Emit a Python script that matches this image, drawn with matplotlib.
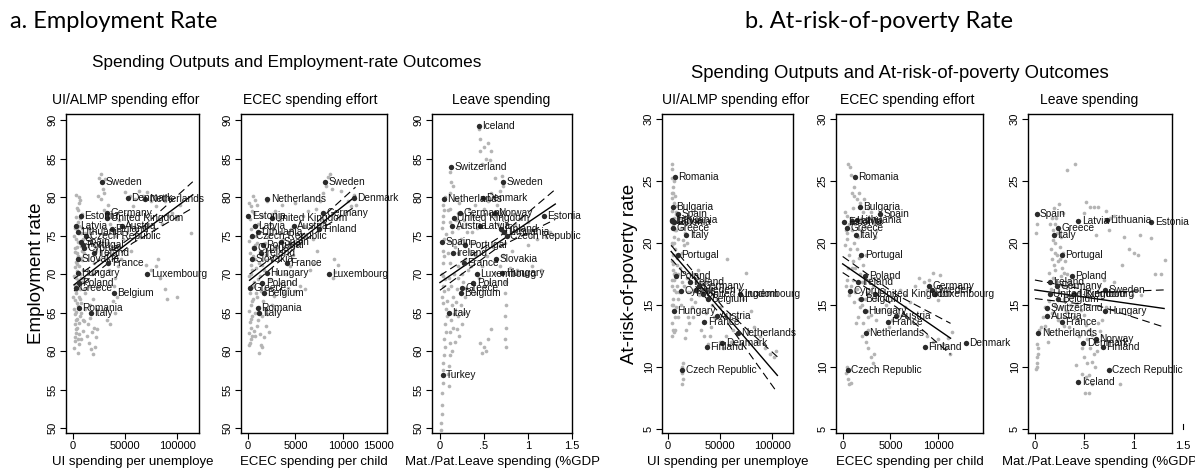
import numpy as np
import matplotlib
matplotlib.use("Agg")
import matplotlib.pyplot as plt

# ---------------- data ----------------
emp_rate = {
    "Iceland": 89.3, "Switzerland": 83.9, "Sweden": 82.0, "Denmark": 79.9, "Netherlands": 79.7,
    "Germany": 77.9, "Norway": 78.0, "Estonia": 77.5, "United Kingdom": 77.3, "Latvia": 76.3,
    "Austria": 76.2, "Finland": 75.9, "Lithuania": 75.5, "Czech Republic": 75.0, "Spain": 74.2,
    "Portugal": 73.8, "Cyprus": 73.4, "Ireland": 72.7, "Slovakia": 71.9, "France": 71.4,
    "Hungary": 70.1, "Luxembourg": 70.0, "Poland": 68.8, "Greece": 68.2, "Belgium": 67.6,
    "Romania": 65.6, "Italy": 64.9, "Turkey": 56.9,
}
pov_rate = {
    "Romania": 25.3, "Bulgaria": 22.9, "Spain": 22.3, "Lithuania": 21.85, "Latvia": 21.8,
    "Estonia": 21.7, "Greece": 21.2, "Italy": 20.6, "Portugal": 19.0, "Poland": 17.3,
    "Ireland": 16.8, "Germany": 16.5, "Sweden": 16.2, "Cyprus": 16.1, "United Kingdom": 15.9,
    "Luxembourg": 15.85, "Belgium": 15.5, "Switzerland": 14.7, "Hungary": 14.5, "Austria": 14.1,
    "France": 13.6, "Netherlands": 12.7, "Norway": 12.2, "Denmark": 11.9, "Finland": 11.6,
    "Czech Republic": 9.7, "Iceland": 8.8,
}

# labelled country means: spending per panel
ui_emp_x = {"Sweden": 27500, "Denmark": 52700, "Netherlands": 69600, "Estonia": 7400,
            "Germany": 32400, "United Kingdom": 33000, "Latvia": 3200, "Austria": 46900,
            "Finland": 37200, "Lithuania": 4900, "Czech Republic": 12900, "Spain": 8100,
            "Portugal": 9500, "Cyprus": 11000, "Ireland": 20400, "Slovakia": 4900,
            "France": 34000, "Hungary": 4900, "Luxembourg": 71500, "Poland": 5800,
            "Greece": 3200, "Belgium": 39200, "Romania": 5800, "Italy": 17200}
ecec_emp_x = {"Sweden": 8100, "Denmark": 11150, "Netherlands": 2060, "Estonia": 80,
              "United Kingdom": 2500, "Germany": 7900, "Latvia": 730, "Austria": 4850,
              "Finland": 7500, "Lithuania": 1030, "Czech Republic": 460, "Spain": 3440,
              "Portugal": 1600, "Cyprus": 650, "Ireland": 1410, "Slovakia": 460,
              "France": 4090, "Hungary": 1990, "Luxembourg": 8480, "Poland": 1530,
              "Greece": 270, "Belgium": 1680, "Romania": 1030, "Italy": 1220}
leave_emp_x = {"Iceland": 0.44, "Switzerland": 0.13, "Sweden": 0.72, "Netherlands": 0.046,
               "Denmark": 0.49, "Germany": 0.225, "Norway": 0.62, "United Kingdom": 0.16,
               "Estonia": 1.18, "Austria": 0.14, "Latvia": 0.45, "Finland": 0.69,
               "Lithuania": 0.73, "Czech Republic": 0.76, "Spain": 0.02, "Portugal": 0.29,
               "Ireland": 0.15, "Slovakia": 0.64, "France": 0.275, "Luxembourg": 0.42,
               "Hungary": 0.71, "Poland": 0.38, "Greece": 0.25, "Belgium": 0.24,
               "Italy": 0.10, "Turkey": 0.03}
ui_pov_x = {"Romania": 6300, "Bulgaria": 4700, "Spain": 9500, "Lithuania": 4200, "Latvia": 3500,
            "Estonia": 5600, "Greece": 4700, "Italy": 17400, "Portugal": 9500, "Poland": 7300,
            "Ireland": 21100, "Germany": 30000, "Cyprus": 12600, "Sweden": 27000,
            "United Kingdom": 33100, "Luxembourg": 69400, "Belgium": 37900, "Hungary": 5400,
            "Austria": 46700, "France": 34700, "Netherlands": 66900, "Denmark": 52100,
            "Finland": 37200, "Czech Republic": 13600}
ecec_pov_x = {"Romania": 1300, "Bulgaria": 1830, "Spain": 3940, "Lithuania": 1480, "Latvia": 1000,
              "Estonia": 180, "Greece": 420, "Italy": 1400, "Portugal": 1940, "Poland": 2360,
              "Ireland": 1650, "Cyprus": 770, "United Kingdom": 3410, "Germany": 9050,
              "Sweden": 9330, "Luxembourg": 9650, "Belgium": 1940, "Hungary": 2290,
              "Austria": 5600, "France": 4720, "Netherlands": 2430, "Finland": 8590,
              "Denmark": 12900, "Czech Republic": 530}
leave_pov_x = {"Spain": 0.017, "Latvia": 0.44, "Lithuania": 0.73, "Estonia": 1.18, "Greece": 0.236,
               "Italy": 0.19, "Portugal": 0.27, "Poland": 0.377, "Ireland": 0.15, "Germany": 0.22,
               "United Kingdom": 0.15, "Luxembourg": 0.40, "Sweden": 0.71, "Belgium": 0.236,
               "Switzerland": 0.12, "Hungary": 0.71, "Austria": 0.125, "France": 0.27,
               "Netherlands": 0.034, "Norway": 0.62, "Denmark": 0.49, "Finland": 0.69,
               "Czech Republic": 0.75, "Iceland": 0.44}

# country-year observations (grey)
gray_ui_emp = [
    (1000, 60.4), (2000, 61.3), (3000, 62.4), (1500, 63.5), (4000, 64.2), (2500, 65.1), (5000, 65.9),
    (1500, 66.6), (6000, 67.0), (3000, 67.5), (7000, 68.0), (2000, 68.6), (5000, 69.2), (1000, 69.8),
    (4000, 70.4), (6000, 71.0), (2500, 71.6), (8000, 72.1), (3500, 72.8), (1500, 73.4), (6500, 74.0),
    (3000, 74.6), (5500, 75.4), (2000, 76.0), (4500, 76.8), (7000, 77.3), (5000, 78.3), (6000, 79.2),
    (5500, 80.0), (3500, 63.0), (6000, 62.2), (2000, 64.8), (8000, 66.3), (9000, 69.0), (10000, 70.5),
    (8500, 73.0), (10000, 74.5), (4000, 73.5), (3000, 69.5), (7500, 65.0), (500, 67.0), (9000, 76.0),
    (1500, 61.8), (2500, 62.9), (4500, 61.5), (5500, 63.7), (3000, 64.0), (6500, 64.6), (1000, 65.5),
    (4000, 66.2), (7000, 66.8), (2500, 67.9), (5500, 68.2), (8000, 69.5), (1500, 70.9), (7000, 70.0),
    (3500, 71.3), (5000, 72.4), (9000, 71.8), (2000, 72.9), (7500, 73.6), (4500, 74.2), (1000, 75.0),
    (8000, 75.3), (3500, 75.9), (6000, 76.3), (2500, 77.4), (8500, 77.8), (4000, 78.6), (7000, 79.6),
    (3000, 80.3), (10500, 68.0), (11000, 72.8), (12000, 75.4), (9500, 64.0), (6000, 60.9),
    (8000, 61.5), (10000, 62.6), (11000, 63.9), (4500, 59.8),
    (13000, 62.0), (15000, 61.0), (17000, 60.2), (19000, 59.6), (21000, 60.5), (18000, 62.5),
    (22000, 61.8), (14000, 63.5), (20000, 63.0), (16000, 64.3), (12000, 65.5), (23000, 62.8),
    (12000, 67.5), (15000, 68.5), (18000, 70.0), (20000, 71.5), (22000, 73.0), (17000, 74.5),
    (14000, 76.0), (25000, 72.0), (11000, 69.5), (24000, 68.3), (19000, 66.8), (16000, 66.0),
    (25000, 82.5), (26500, 83.0), (28500, 81.0), (30000, 80.5), (27000, 79.8), (31000, 82.3), (24000, 80.2),
    (33000, 64.0), (36000, 63.5), (40000, 65.0), (38000, 66.5), (42000, 67.0), (39000, 68.5),
    (40000, 69.5), (35000, 70.5), (37000, 72.5), (33000, 74.0), (41000, 75.0), (36000, 76.5),
    (44000, 77.0), (30000, 78.3), (34000, 79.0), (45000, 73.5), (43000, 71.0), (29000, 76.0),
    (50000, 80.6), (55000, 80.2), (60000, 79.8), (63000, 80.8), (67000, 80.2), (71000, 80.6),
    (75000, 79.5), (58000, 78.8), (80000, 78.8), (88000, 79.5), (95000, 78.0), (100000, 77.2),
    (85000, 76.5), (78000, 75.8), (92000, 77.5), (103000, 79.0), (113500, 75.4),
    (75000, 70.5), (80000, 71.0), (84000, 69.5), (88000, 68.0), (90000, 66.8), (100000, 67.0),
    (82000, 72.0), (70000, 71.2), (48000, 74.5), (52000, 75.5), (56000, 73.0), (60000, 76.0),
    (64000, 74.8), (46000, 72.0), (55000, 77.5),
]
gray_ecec_emp = [
    (100, 60.8), (300, 61.5), (150, 62.3), (400, 63.0), (200, 63.8), (500, 64.5), (100, 65.2),
    (350, 66.0), (600, 66.8), (200, 67.5), (450, 68.3), (700, 69.0), (150, 69.8), (500, 70.5),
    (300, 71.2), (800, 72.0), (250, 72.8), (600, 73.5), (150, 74.3), (900, 75.0), (400, 75.8),
    (1100, 76.5), (200, 77.2), (700, 78.0), (300, 78.8), (100, 79.3), (600, 80.2), (1000, 74.0),
    (1200, 71.5), (900, 67.5), (1300, 69.8), (1100, 64.0), (800, 62.0),
    (250, 61.0), (450, 61.9), (700, 62.6), (1000, 63.2), (300, 64.2), (750, 65.0), (1200, 65.7),
    (450, 66.5), (1000, 67.0), (1400, 67.8), (650, 68.5), (1100, 69.3), (350, 70.0), (900, 70.8),
    (1500, 71.2), (550, 72.3), (1300, 73.0), (800, 73.8), (400, 74.8), (1200, 75.3), (700, 76.2),
    (1500, 77.5), (450, 78.2), (1000, 79.0), (800, 79.6), (1700, 70.5), (2000, 71.8), (2400, 73.2),
    (1800, 74.0), (2300, 76.5), (2600, 77.8), (2000, 79.5), (1500, 64.5), (1800, 65.5), (1300, 62.2),
    (1500, 60.5), (1700, 61.8), (1900, 63.2), (2200, 62.5), (2000, 64.8), (1600, 66.5), (2500, 66.0),
    (2800, 67.2), (1800, 68.0), (2300, 69.3), (3000, 70.2), (2600, 71.8), (1900, 72.5), (3200, 73.5),
    (2100, 74.8), (2700, 75.8), (3400, 77.0), (2900, 78.2), (1600, 76.0), (3500, 68.8),
    (1200, 59.8), (1400, 60.8),
    (3800, 67.5), (4200, 68.2), (4600, 68.8), (5000, 67.8), (5500, 68.5), (6000, 68.0), (4000, 70.0),
    (4400, 71.0), (4800, 72.5), (5200, 73.8), (5600, 75.0), (6000, 76.2), (3700, 74.5), (4500, 75.8),
    (5800, 77.5), (6300, 78.2), (3600, 79.0), (5000, 79.2), (6500, 70.5), (7000, 71.5),
    (7200, 78.5), (7600, 79.5), (7900, 80.5), (8200, 81.5), (8400, 82.6), (8600, 83.0), (8800, 81.0),
    (8000, 77.0), (7500, 76.5), (9000, 72.0), (9500, 71.2), (9200, 70.3), (8900, 69.5), (10500, 79.5),
    (10800, 78.8), (11100, 80.3), (11300, 79.0), (10200, 78.0), (9800, 80.8), (6800, 74.5), (7300, 73.0),
]
gray_leave_emp = [
    (0.01, 49.0), (0.01, 49.8), (0.015, 50.7), (0.02, 51.8), (0.02, 53.0), (0.02, 54.5), (0.03, 55.8),
    (0.03, 57.5), (0.04, 58.5), (0.05, 59.5), (0.06, 60.5), (0.05, 61.5), (0.07, 62.5), (0.06, 63.5),
    (0.08, 64.5), (0.07, 65.5), (0.02, 67.0), (0.03, 68.5), (0.02, 70.0), (0.04, 71.5), (0.03, 73.0),
    (0.05, 74.5), (0.02, 76.0), (0.04, 77.5), (0.03, 79.0), (0.06, 80.0), (0.05, 78.3), (0.07, 75.2),
    (0.06, 69.3), (0.10, 58.0), (0.11, 59.5), (0.12, 61.0), (0.11, 62.5), (0.13, 64.0), (0.14, 66.0),
    (0.15, 67.0), (0.13, 68.5), (0.16, 70.0), (0.12, 71.5), (0.17, 73.5), (0.14, 75.5), (0.18, 77.0),
    (0.12, 78.5), (0.11, 80.5), (0.13, 82.0), (0.12, 83.2), (0.15, 81.5), (0.09, 57.0), (0.10, 55.5),
    (0.04, 66.3), (0.05, 67.8), (0.04, 69.8), (0.05, 72.3), (0.04, 76.8), (0.08, 66.5), (0.09, 68.0),
    (0.10, 69.5), (0.09, 72.8), (0.10, 74.3), (0.11, 76.8), (0.09, 78.3), (0.14, 60.0), (0.15, 63.0),
    (0.16, 64.8), (0.18, 66.4), (0.19, 68.0), (0.20, 69.5), (0.21, 71.0), (0.20, 72.8), (0.22, 74.0),
    (0.21, 76.0), (0.20, 78.0), (0.19, 79.8), (0.25, 70.0), (0.28, 74.0), (0.30, 76.5), (0.36, 75.5),
    (0.38, 77.5), (0.40, 79.0), (0.17, 61.2), (0.19, 62.8), (0.21, 64.5),
    (0.22, 62.0), (0.25, 63.5), (0.27, 65.0), (0.24, 66.0), (0.28, 67.0), (0.30, 68.2), (0.26, 69.0),
    (0.32, 70.5), (0.29, 72.0), (0.34, 73.0), (0.24, 74.5), (0.31, 75.5), (0.27, 77.0), (0.33, 78.5),
    (0.22, 79.3), (0.35, 71.0),
    (0.44, 88.8), (0.46, 87.5), (0.50, 86.5), (0.55, 87.0), (0.58, 86.0), (0.52, 85.0), (0.48, 84.3),
    (0.57, 84.8), (0.62, 82.5), (0.45, 86.0),
    (0.38, 74.0), (0.42, 76.0), (0.45, 77.5), (0.50, 78.5), (0.55, 79.5), (0.58, 80.5), (0.40, 72.5),
    (0.48, 71.0), (0.53, 72.3), (0.60, 73.5), (0.44, 69.5), (0.50, 68.5), (0.56, 69.0), (0.40, 67.5),
    (0.45, 61.0), (0.50, 60.5), (0.48, 59.8), (0.52, 60.0), (0.55, 61.5), (0.58, 62.8),
    (0.62, 77.5), (0.65, 79.0), (0.68, 80.8), (0.70, 82.8), (0.72, 81.5), (0.66, 76.5), (0.70, 75.5),
    (0.74, 74.0), (0.72, 72.5), (0.68, 71.0), (0.75, 69.0), (0.74, 67.5), (0.75, 66.0), (0.74, 64.5),
    (0.75, 63.0), (0.74, 61.5), (0.75, 60.5), (0.62, 70.2), (0.80, 70.8),
    (0.85, 76.5), (0.90, 77.2), (0.95, 75.8), (1.00, 76.8), (1.05, 75.0), (1.10, 74.5), (0.88, 70.5),
    (0.95, 70.0), (1.05, 71.0), (1.15, 70.5), (1.20, 74.8), (1.25, 75.5), (1.28, 75.1), (1.00, 73.8),
    (0.82, 73.0),
]
gray_ui_pov = [
    (4000, 26.4), (4200, 26.0), (4500, 24.5), (5000, 24.0), (4200, 23.6), (5500, 23.2), (3800, 22.6),
    (6000, 22.0), (4500, 21.5), (7000, 21.0), (5500, 20.5), (4000, 20.0), (6500, 19.5), (5000, 19.0),
    (3800, 18.5), (4500, 17.8), (6000, 17.0), (4000, 16.5), (7500, 16.0), (5000, 15.5), (3800, 15.0),
    (6500, 14.0), (4000, 13.5), (5000, 13.0), (4200, 12.5), (8000, 22.5), (9000, 23.0), (11000, 22.0),
    (12000, 21.2), (9500, 20.3), (8500, 18.2), (10000, 17.5), (14000, 20.2), (16000, 20.8),
    (3500, 25.2), (5500, 25.0), (3800, 24.0), (6500, 23.8), (4800, 22.9), (7500, 22.3), (3500, 21.2),
    (5800, 21.8), (8000, 21.0), (3800, 19.8), (6000, 20.0), (7200, 19.0), (4500, 18.3), (9000, 18.8),
    (5500, 17.5), (7000, 17.6), (3500, 17.0), (8500, 16.5), (5800, 16.2), (4500, 15.0), (9500, 15.5),
    (11000, 16.0), (6000, 14.6), (8000, 14.8), (5500, 12.8), (7000, 13.0), (10000, 14.0), (12000, 15.0),
    (13000, 16.8), (11500, 18.0), (13000, 19.2), (15000, 19.8), (17000, 21.5), (18500, 20.0),
    (19000, 16.0), (22000, 15.5), (25000, 16.2), (28000, 16.0), (31000, 16.8), (24000, 14.0),
    (17000, 13.0),
    (13000, 10.0), (13500, 9.5), (14000, 9.0), (13500, 8.6), (14500, 10.3),
    (15000, 16.5), (18000, 17.2), (21000, 16.0), (24000, 17.5), (27000, 16.8), (30000, 15.8),
    (33000, 16.2), (20000, 13.5), (23000, 14.8), (26000, 15.2), (29000, 17.8), (35000, 17.0),
    (38000, 16.0), (42000, 15.0), (45000, 16.5), (16000, 12.3), (19000, 14.0), (32000, 13.0),
    (35000, 12.5), (38000, 11.8), (40000, 12.5), (36000, 14.3), (41000, 13.2), (44000, 14.0),
    (47000, 15.5), (50000, 14.8), (50000, 12.0), (53000, 11.5), (56000, 12.5), (60000, 12.0),
    (62000, 13.0), (57000, 18.7), (65000, 14.0), (68000, 16.3), (72000, 15.5), (75000, 17.6),
    (78000, 16.0), (80000, 14.5), (83000, 13.2), (88000, 12.5), (93000, 11.5), (98000, 11.0),
    (102000, 10.8), (104000, 11.3), (85000, 12.0), (90000, 12.8),
]
gray_ecec_pov = [
    (600, 26.4), (800, 26.1), (900, 25.5), (1000, 24.0), (1200, 23.8), (1500, 23.5), (1800, 23.2),
    (1100, 22.8), (2100, 22.5), (900, 22.0), (1300, 21.5), (2500, 21.7), (3000, 22.5), (3300, 22.0),
    (3500, 21.0), (3400, 20.5), (3600, 21.5), (300, 21.0), (500, 20.3), (200, 19.8), (700, 19.0),
    (1100, 18.5), (1500, 19.5), (1300, 18.0), (1800, 17.5), (2100, 18.2), (400, 17.0), (900, 16.5),
    (1500, 16.3), (2000, 16.8), (2500, 16.0), (700, 15.8), (1200, 15.2), (1800, 14.8), (2300, 15.5),
    (2800, 15.8), (1600, 14.0), (2100, 13.5), (2600, 13.0), (3000, 14.2), (3500, 13.8), (3800, 14.6),
    (2400, 12.0), (2700, 11.5), (3000, 10.8), (3200, 10.3), (3300, 11.0), (600, 9.0), (700, 8.6),
    (900, 8.7), (500, 10.0), (300, 9.5),
    (200, 22.5), (500, 22.2), (700, 21.5), (1000, 21.0), (400, 20.8), (1200, 20.0), (1600, 20.5),
    (1900, 21.0), (2300, 21.3), (2700, 22.0), (800, 19.5), (1000, 18.0), (1700, 18.8), (2400, 19.0),
    (600, 18.0), (300, 16.5), (1100, 17.0), (1300, 16.0), (1700, 15.5), (2000, 15.0), (2500, 14.5),
    (2800, 17.0), (3200, 16.5), (3500, 15.5), (1400, 13.5), (2000, 12.5), (2600, 14.0), (1200, 24.5),
    (1700, 24.0), (2200, 23.5), (2600, 22.8),
    (4500, 15.0), (5000, 14.5), (5500, 15.5), (6000, 16.2), (6500, 15.8), (4800, 13.2), (5200, 13.8),
    (5800, 14.2), (6500, 14.8), (7000, 15.2), (7600, 16.5), (8000, 17.2), (8500, 16.8), (9000, 17.0),
    (9500, 17.6), (10200, 17.4), (8800, 16.2), (9600, 15.8), (10000, 15.4),
    (8800, 12.5), (9500, 12.0), (10500, 11.8), (11000, 12.3), (11500, 12.8), (11200, 11.0),
    (10800, 11.5), (10000, 12.2),
]
gray_leave_pov = [
    (0.02, 21.5), (0.01, 20.8), (0.02, 22.3), (0.03, 11.5), (0.02, 10.8), (0.02, 10.3), (0.03, 11.0),
    (0.02, 10.0), (0.06, 13.2), (0.10, 13.3), (0.12, 13.0), (0.08, 14.0),
    (0.17, 22.0), (0.20, 21.5), (0.22, 20.8), (0.18, 20.2), (0.25, 19.7), (0.20, 19.2), (0.17, 18.7),
    (0.23, 18.5), (0.27, 18.0), (0.30, 17.6), (0.18, 17.2), (0.22, 16.8), (0.26, 17.3), (0.24, 23.1),
    (0.28, 22.4), (0.19, 22.8),
    (0.15, 21.5), (0.18, 21.0), (0.21, 22.0), (0.23, 21.2), (0.26, 20.5), (0.20, 20.0), (0.16, 19.5),
    (0.22, 19.0), (0.28, 19.2), (0.19, 18.2), (0.25, 18.7), (0.31, 18.5), (0.14, 17.6), (0.20, 17.8),
    (0.28, 16.5), (0.33, 16.5), (0.16, 16.3), (0.24, 16.0), (0.30, 15.5), (0.36, 15.0), (0.14, 15.3),
    (0.20, 15.0), (0.26, 14.8), (0.32, 14.5), (0.17, 14.3), (0.23, 13.8), (0.29, 13.3), (0.40, 14.0),
    (0.45, 12.5), (0.48, 11.5), (0.50, 10.8), (0.53, 10.3), (0.62, 12.0), (0.68, 12.5), (0.13, 12.0),
    (0.10, 14.8), (0.04, 13.0), (0.02, 11.8), (0.01, 9.8),
    (0.33, 17.5), (0.36, 16.9), (0.40, 16.5), (0.45, 16.0), (0.38, 15.6), (0.42, 15.0), (0.47, 14.6),
    (0.50, 14.2), (0.44, 13.8), (0.52, 13.4), (0.55, 13.0), (0.58, 12.6), (0.53, 12.2), (0.56, 11.5),
    (0.60, 11.0), (0.58, 10.4), (0.61, 10.0), (0.63, 11.3), (0.66, 12.9), (0.35, 13.2), (0.30, 14.0),
    (0.52, 9.2), (0.55, 9.3), (0.48, 9.4), (0.51, 7.9), (0.55, 7.9), (0.58, 8.6), (0.86, 8.6), (0.42, 10.1),
    (0.33, 25.9), (0.41, 26.4), (0.52, 23.3), (0.56, 22.9), (0.60, 22.9), (0.64, 22.9), (0.50, 22.4),
    (0.72, 22.6), (0.76, 22.0), (0.80, 22.2), (0.75, 21.0), (0.62, 20.6), (0.90, 20.5), (0.95, 19.5),
    (1.00, 19.2), (1.05, 19.0), (1.07, 20.6), (1.18, 20.4), (1.22, 17.5), (1.28, 17.5), (1.32, 18.6),
    (0.88, 18.2), (0.70, 17.0), (0.65, 16.5), (0.80, 16.8), (0.90, 16.0), (0.98, 15.8), (1.08, 15.8),
    (0.72, 14.8), (0.68, 13.8), (0.64, 13.5),
]

# fitted lines and confidence bounds (read at left, middle, right of each line)
fit_ui_emp = dict(x=[1000, 57000, 115000], fit=[68.6, 74.5, 80.3], hi=[69.4, 74.9, 82.0], lo=[67.8, 74.0, 78.6])
fit_ecec_emp = dict(x=[200, 5700, 11300], fit=[69.2, 74.6, 80.1], hi=[70.0, 75.0, 81.3], lo=[68.3, 74.2, 78.8])
fit_leave_emp = dict(x=[0.0, 0.65, 1.31], fit=[68.9, 74.0, 79.1], hi=[69.8, 74.6, 81.0], lo=[67.9, 73.4, 77.1])
fit_ui_pov = dict(x=[3000, 54000, 105000], fit=[19.3, 14.3, 9.3], hi=[19.8, 14.7, 10.8], lo=[18.7, 13.9, 7.9])
fit_ecec_pov = dict(x=[0, 5650, 11300], fit=[18.3, 15.3, 12.3], hi=[18.9, 15.8, 13.5], lo=[17.6, 14.8, 11.0])
fit_leave_pov = dict(x=[0.0, 0.65, 1.31], fit=[16.2, 15.45, 14.7], hi=[17.0, 16.0, 16.2], lo=[15.5, 14.9, 13.2])

# ---------------- figure ----------------
W, H = 1195, 475
fig = plt.figure(figsize=(W / 100, H / 100), dpi=100)
SANS = ["Liberation Sans", "DejaVu Sans"]
TITLEF = ["Lato", "DejaVu Sans"]
GRAY = "#b4b4b4"
DOT = "#2b2b2b"
TICKLEN, TICKPAD, TICKFS = 4, 2, 8


def fx(px):
    return px / W


def fy(py):
    return 1 - py / H


def make_axes(x0, x1, y0, y1):
    return fig.add_axes([fx(x0), fy(y1), (x1 - x0) / W, (y1 - y0) / H])


def panel(ax, gray, xs, rates, fit, xlim, ylim, xticks, xticklabels, yticks):
    g = np.array(gray, dtype=float)
    ax.scatter(g[:, 0], g[:, 1], s=7, color=GRAY, linewidths=0, zorder=2)
    f = fit
    ax.plot(f["x"], f["fit"], color="black", lw=1.0, zorder=3)
    ax.plot(f["x"], f["hi"], color="black", lw=0.8, dashes=(7, 4), zorder=3)
    ax.plot(f["x"], f["lo"], color="black", lw=0.8, dashes=(7, 4), zorder=3)
    names = list(xs.keys())
    px = [xs[n] for n in names]
    py = [rates[n] for n in names]
    ax.scatter(px, py, s=15, color=DOT, linewidths=0, zorder=4)
    for n, a, b in zip(names, px, py):
        ax.annotate(n, (a, b), xytext=(2.5, 0), textcoords="offset points", va="center",
                    ha="left", fontsize=7.3, family=SANS, color="#111111", zorder=5,
                    annotation_clip=False)
    ax.set_xlim(*xlim)
    ax.set_ylim(*ylim)
    ax.set_xticks(xticks)
    ax.set_xticklabels(xticklabels, family=SANS, fontsize=TICKFS)
    ax.set_yticks(yticks)
    ax.set_yticklabels([str(v) for v in yticks], family=SANS, fontsize=TICKFS, rotation=90,
                       va="center")
    ax.tick_params(direction="out", length=TICKLEN, width=0.8, pad=TICKPAD)
    for s in ax.spines.values():
        s.set_linewidth(1.0)
    ax.set_facecolor("white")


def extra_xtick(ax, x, label, ha, dx=0):
    # a tick label the original draws beyond the plot region
    ax.annotate(label, xy=(x, 0), xycoords=("data", "axes fraction"),
                xytext=(dx, -(TICKLEN + TICKPAD)), textcoords="offset points",
                ha=ha, va="top", fontsize=TICKFS, family=SANS, annotation_clip=False)


top, bot = 114, 433
yl_emp = (49.35, 90.8)
yl_pov = (4.65, 30.4)
ytk_emp = [50, 55, 60, 65, 70, 75, 80, 85, 90]
ytk_pov = [5, 10, 15, 20, 25, 30]

ax1 = make_axes(66, 199, top, bot)
panel(ax1, gray_ui_emp, ui_emp_x, emp_rate, fit_ui_emp, (-6700, 121000), yl_emp,
      [0, 50000, 100000], ["0", "50000", "100000"], ytk_emp)
ax2 = make_axes(241, 387, top, bot)
panel(ax2, gray_ecec_emp, ecec_emp_x, emp_rate, fit_ecec_emp, (-700, 14600), yl_emp,
      [0, 5000, 10000], ["0", "5000", "10000"], ytk_emp)
ax3 = make_axes(432, 572, top, bot)
panel(ax3, gray_leave_emp, leave_emp_x, emp_rate, fit_leave_emp, (-0.09, 1.5), yl_emp,
      [0, 0.5, 1, 1.5], ["0", ".5", "1", "1.5"], ytk_emp)
ax4 = make_axes(662, 793, top, bot)
panel(ax4, gray_ui_pov, ui_pov_x, pov_rate, fit_ui_pov, (-5800, 120000), yl_pov,
      [0, 50000, 100000], ["0", "50000", "100000"], ytk_pov)
ax5 = make_axes(836, 983, top, bot)
panel(ax5, gray_ecec_pov, ecec_pov_x, pov_rate, fit_ecec_pov, (-700, 14700), yl_pov,
      [0, 5000, 10000], ["0", "5000", "10000"], ytk_pov)
ax6 = make_axes(1028, 1172, top, bot)
panel(ax6, gray_leave_pov, leave_pov_x, pov_rate, fit_leave_pov, (-0.07, 1.39), yl_pov,
      [0, 0.5, 1], ["0", ".5", "1"], ytk_pov)

extra_xtick(ax2, 15000, "15000", "right", dx=2)
extra_xtick(ax6, 1.5, "1.5", "center")
ax6.plot([1.5, 1.5], [0.012, 0.028], transform=ax6.get_xaxis_transform(), color="black",
         lw=0.8, clip_on=False)

# axis titles
for ax, lab in [(ax1, "UI spending per unemploye"), (ax2, "ECEC spending per child"),
                (ax3, "Mat./Pat.Leave spending (%GDP"), (ax4, "UI spending per unemploye"),
                (ax5, "ECEC spending per child"), (ax6, "Mat./Pat.Leave spending (%GDP")]:
    ax.set_xlabel(lab, family=SANS, fontsize=9.5, labelpad=3)
ax1.set_ylabel("Employment rate", family=SANS, fontsize=13.5, labelpad=2)
ax4.set_ylabel("At-risk-of-poverty rate", family=SANS, fontsize=13.5, labelpad=4)

# panel titles
for x, s in [(52, "UI/ALMP spending effor"), (243, "ECEC spending effort"), (452, "Leave spending"),
             (662, "UI/ALMP spending effor"), (840, "ECEC spending effort"), (1040, "Leave spending")]:
    fig.text(fx(x), fy(100), s, family=SANS, fontsize=10, ha="left", va="center")

fig.text(fx(287), fy(63), "Spending Outputs and Employment-rate Outcomes", family=SANS,
         fontsize=12.3, ha="center", va="center")
fig.text(fx(900), fy(73), "Spending Outputs and At-risk-of-poverty Outcomes", family=SANS,
         fontsize=13.3, ha="center", va="center")
fig.text(fx(10), fy(22), "a. Employment Rate", family=TITLEF, fontsize=17, ha="left", va="center")
fig.text(fx(745), fy(22), "b. At-risk-of-poverty Rate", family=TITLEF, fontsize=17, ha="left",
         va="center")

fig.savefig("out.png", dpi=100, facecolor="white")
